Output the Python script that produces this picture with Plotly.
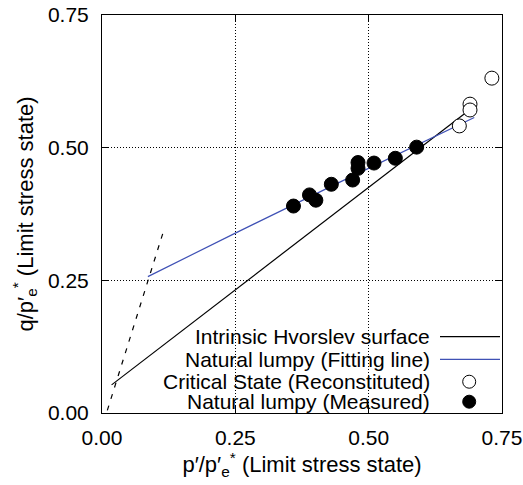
import plotly.graph_objects as go

# Data
hv_p = [0.018, 0.69]
hv_q = [0.053, 0.572]

fit_p = [0.086, 0.25, 0.446, 0.698]
fit_q = [0.257, 0.339, 0.435, 0.557]

dash_p = [0.010, 0.117]
dash_q = [0.005, 0.348]

cs_p = [0.731, 0.690, 0.690, 0.670]
cs_q = [0.631, 0.582, 0.571, 0.541]

nat_p = [0.359, 0.389, 0.401, 0.430, 0.470, 0.480, 0.480, 0.510, 0.550, 0.590]
nat_q = [0.390, 0.411, 0.401, 0.431, 0.439, 0.472, 0.461, 0.471, 0.480, 0.501]

tick_vals = [0, 0.25, 0.5, 0.75]
tick_text = ["0.00", "0.25", "0.50", "0.75"]

legend_labels = ["Intrinsic Hvorslev surface", "Natural lumpy (Fitting line)",
                 "Critical State (Reconstituted)", "Natural lumpy (Measured)"]

FONT = "Liberation Sans, Arial, Helvetica, sans-serif"
BLUE = "#3f51b5"
FS = 21
TFS = 22

fig = go.Figure()
fig.add_trace(go.Scatter(x=dash_p, y=dash_q, mode="lines",
                         line=dict(color="black", width=1.2, dash="5px,7px"), showlegend=False))
fig.add_trace(go.Scatter(x=hv_p, y=hv_q, mode="lines",
                         line=dict(color="black", width=1.2), showlegend=False))
fig.add_trace(go.Scatter(x=fit_p, y=fit_q, mode="lines",
                         line=dict(color=BLUE, width=1.2), showlegend=False))
fig.add_trace(go.Scatter(x=cs_p, y=cs_q, mode="markers",
                         marker=dict(size=14, color="white", line=dict(color="black", width=1)),
                         showlegend=False, cliponaxis=False))
fig.add_trace(go.Scatter(x=nat_p, y=nat_q, mode="markers",
                         marker=dict(size=14, color="black", line=dict(color="black", width=1)),
                         showlegend=False, cliponaxis=False))

axis_common = dict(
    range=[0, 0.75], tickvals=tick_vals, ticktext=tick_text, automargin=False,
    showline=True, linecolor="black", linewidth=1, mirror="ticks",
    ticks="inside", ticklen=7, tickcolor="black", tickwidth=1,
    showgrid=True, gridcolor="black", gridwidth=1, griddash="1px,2px",
    zeroline=False, tickfont=dict(family=FONT, size=FS, color="black"),
)

fig.update_layout(
    width=523, height=485,
    margin=dict(l=102, r=21, t=15, b=72),
    plot_bgcolor="white", paper_bgcolor="white",
    font=dict(family=FONT, size=FS, color="black"),
    xaxis=dict(axis_common, ticklabelstandoff=6,
               title=dict(text="p′/p′<sub>e</sub><sup>*</sup> (Limit stress state)",
                          font=dict(family=FONT, size=TFS), standoff=8)),
    yaxis=dict(axis_common, ticklabelstandoff=8,
               title=dict(text="q/p′<sub>e</sub><sup>*</sup> (Limit stress state)",
                          font=dict(family=FONT, size=TFS), standoff=8)),
)

# legend background (covers grid, under traces)
fig.add_shape(type="rect", xref="paper", yref="paper", x0=0.19, x1=1.0, y0=0.0, y1=0.218,
              fillcolor="white", line=dict(width=0), layer="between")

rows_y = [0.1917, 0.1349, 0.0786, 0.0284]
for lab, yy in zip(legend_labels, rows_y):
    fig.add_annotation(x=0.825, y=yy, xref="paper", yref="paper", text=lab,
                       showarrow=False, xanchor="right", yanchor="middle",
                       font=dict(family=FONT, size=FS, color="black"))

fig.add_shape(type="line", xref="paper", yref="paper", x0=0.845, x1=0.995,
              y0=rows_y[0], y1=rows_y[0], line=dict(color="black", width=1.2), layer="above")
fig.add_shape(type="line", xref="paper", yref="paper", x0=0.845, x1=0.995,
              y0=rows_y[1], y1=rows_y[1], line=dict(color=BLUE, width=1.2), layer="above")
for yy, fill in [(rows_y[2], "white"), (rows_y[3], "black")]:
    fig.add_shape(type="circle", xref="paper", yref="paper", xsizemode="pixel", ysizemode="pixel",
                  xanchor=0.918, yanchor=yy, x0=-6.5, x1=6.5, y0=-6.5, y1=6.5,
                  fillcolor=fill, line=dict(color="black", width=1), layer="above")

fig.write_html("out.html")
